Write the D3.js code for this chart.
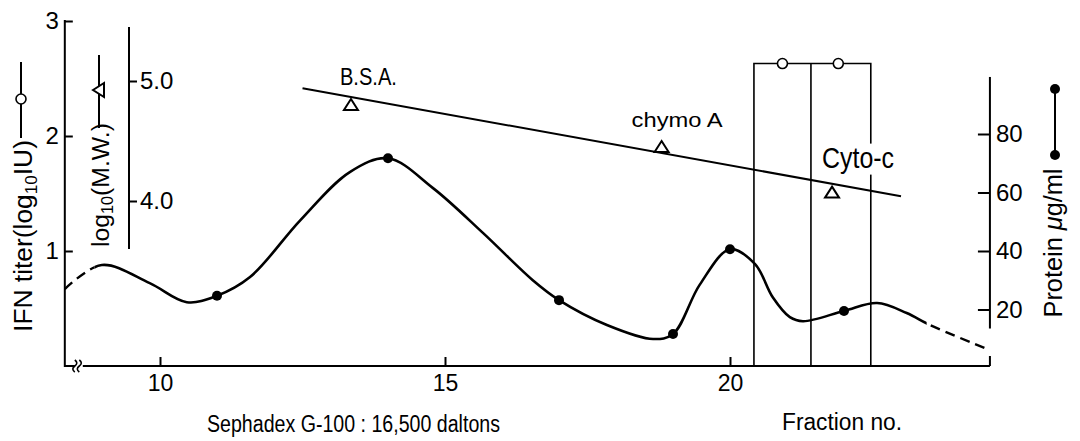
<!DOCTYPE html>
<html><head><meta charset="utf-8">
<script src="https://cdn.jsdelivr.net/npm/d3@7"></script>
<style>
html,body{margin:0;padding:0;background:#fff;}
svg{display:block;font-family:"Liberation Sans",Arial,sans-serif;}
</style></head><body>
<svg id="chart" width="1080" height="441"></svg>
<script>
// ---------------- data ----------------
const fractionTicks = [10, 15, 20];
const ifnTicks = [1, 2, 3];
const mwTicks = [4.0, 5.0];
const proteinTicks = [20, 40, 60, 80];

// protein (filled circles), fraction no. vs µg/ml
const proteinFractions = [11, 14, 17, 19, 20, 22];
const proteinValues = [24.7, 71.7, 23.2, 11.6, 40.6, 19.5];
// traced shape of the protein curve (incl. unmarked points)
const curveFractions = [8.33, 8.98, 9.82, 10.47, 11, 11.58, 12.46, 13.33, 14, 14.79, 15.67, 16.54, 17, 17.84, 18.65, 19, 19.47, 20, 20.44, 20.75, 21.05, 21.28, 22, 22.58, 23.1, 23.51, 24.56];
const curveValues = [27.0, 35.2, 29.0, 22.5, 24.7, 31.1, 50.5, 67.0, 71.7, 61.5, 46.1, 30.0, 23.2, 14.7, 9.9, 11.6, 28.5, 40.6, 35.5, 24.2, 17.4, 16.0, 19.5, 22.2, 18.8, 14.7, 6.1];
const dashedBefore = 8.85;   // curve dashed left of this fraction
const dashedAfter = 23.45;   // and right of this fraction

// IFN titer (open circles, histogram)
const ifnBinEdges = [20.42, 21.42, 22.47];
const ifnFractions = [20.92, 21.9];
const ifnValues = [2.63, 2.63];

// molecular weight markers (triangles) and calibration line
const markerNames = ["B.S.A.", "chymo A", "Cyto-c"];
const markerFractions = [13.35, 18.8, 21.79];
const markerLogMW = [4.80, 4.45, 4.07];
const calibFractions = [12.5, 23.0];
const calibLogMW = [4.94, 4.04];

// ---------------- chart ----------------
const svg = d3.select("#chart");
const FONT = '"Liberation Sans",Arial,sans-serif';

const x = d3.scaleLinear().domain([10, 20]).range([160, 730]);
const yIFN = d3.scaleLinear().domain([0, 3]).range([366, 21]);
const yMW = d3.scaleLinear().domain([4, 5]).range([201, 81]);
const yP = d3.scaleLinear().domain([0, 80]).range([368, 134]);

const xMin = 8.33, xMax = 24.56;
const baseY = yIFN(0);

function styleAxis(g, fs) {
  g.attr("font-family", FONT).attr("font-size", fs);
  g.selectAll("line").attr("stroke", "#000").attr("stroke-width", 2);
  g.selectAll("path.domain").attr("stroke", "#000").attr("stroke-width", 2);
  g.selectAll("text").attr("fill", "#000");
}

// ---- x axis with break ----
const xAxisG = svg.append("g").attr("transform", `translate(0,${baseY})`)
  .call(d3.axisBottom(x).tickValues(fractionTicks).tickSizeInner(-9).tickSizeOuter(0).tickPadding(9));
xAxisG.select("path.domain").remove();
styleAxis(xAxisG, 23);
const x0 = x(xMin);
svg.append("path")
  .attr("d", `M${x0},${baseY}H${x0+10}M${x0+18},${baseY}H${x(xMax)}M${x(xMax)},${baseY}V${baseY-10}`)
  .attr("stroke", "#000").attr("stroke-width", 2).attr("fill", "none");
// break mark (two small S strokes across the axis)
svg.append("path")
  .attr("d", [x0 + 11.5, x0 + 16].map(c => `M${c-1.5},${baseY-6} q4,3 0,6 q-4,3 0,6`).join(""))
  .attr("stroke", "#000").attr("stroke-width", 1.6).attr("fill", "none");

// ---- IFN axis (left) ----
const ifnAxisG = svg.append("g").attr("transform", `translate(${x0},0)`)
  .call(d3.axisLeft(yIFN).tickValues(ifnTicks).tickFormat(d3.format("d")).tickSizeInner(-8).tickSizeOuter(0).tickPadding(6));
styleAxis(ifnAxisG, 24);
ifnAxisG.select("path.domain").attr("d", `M0,${baseY+1}V${yIFN(3)-1}`);

// ---- MW axis ----
const mwX = 129;
const mwAxisG = svg.append("g").attr("transform", `translate(${mwX},0)`)
  .call(d3.axisRight(yMW).tickValues(mwTicks).tickFormat(d3.format(".1f")).tickSizeInner(8).tickSizeOuter(0).tickPadding(3));
mwAxisG.select("path.domain").remove();
styleAxis(mwAxisG, 24);
svg.append("line").attr("x1", mwX).attr("x2", mwX).attr("y1", yMW(5.45)).attr("y2", yMW(3.6))
  .attr("stroke", "#000").attr("stroke-width", 2);

// ---- protein axis (right) ----
const pX = x(xMax);
const pAxisG = svg.append("g").attr("transform", `translate(${pX},0)`)
  .call(d3.axisRight(yP).tickValues(proteinTicks).tickSizeInner(-12).tickSizeOuter(0).tickPadding(6));
pAxisG.select("path.domain").remove();
styleAxis(pAxisG, 24);
svg.append("line").attr("x1", pX).attr("x2", pX).attr("y1", yP(99.5)).attr("y2", yP(13.5))
  .attr("stroke", "#000").attr("stroke-width", 2);

// ---- IFN histogram ----
const e = ifnBinEdges;
svg.append("path")
  .attr("d", `M${x(e[0])},${baseY}V${yIFN(ifnValues[0])}H${x(e[1])}V${yIFN(ifnValues[1])}H${x(e[2])}V${baseY}M${x(e[1])},${yIFN(ifnValues[0])}V${baseY}`)
  .attr("stroke", "#000").attr("stroke-width", 1.6).attr("fill", "none");

// ---- MW calibration line ----
svg.append("path")
  .datum(d3.zip(calibFractions, calibLogMW))
  .attr("d", d3.line().x(d => x(d[0])).y(d => yMW(d[1])))
  .attr("stroke", "#000").attr("stroke-width", 2).attr("fill", "none");

// labels (Cyto-c with white background interrupting the histogram edge)
const labelSpec = [
  {dx: -11, base: -20, fs: 23, len: 57},
  {dx: -30, base: -20, fs: 21, len: 91},
  {dx: -10, base: -25, fs: 29, len: 72, bg: true}
];
markerNames.forEach((n, i) => {
  const s = labelSpec[i];
  const tx = x(markerFractions[i]) + s.dx;
  const ty = yMW(markerLogMW[i]) + s.base;
  if (s.bg) {
    svg.append("rect").attr("x", tx - 2).attr("y", ty - 24).attr("width", s.len + 4).attr("height", 31).attr("fill", "#fff");
  }
  svg.append("text").attr("x", tx).attr("y", ty).attr("font-size", s.fs)
    .attr("textLength", s.len).attr("lengthAdjust", "spacingAndGlyphs").text(n);
});

const triPath = "M0,-6L7,5L-7,5Z";
svg.selectAll("path.tri").data(d3.zip(markerFractions, markerLogMW)).join("path")
  .attr("class", "tri").attr("d", triPath)
  .attr("transform", d => `translate(${x(d[0])},${yMW(d[1])})`)
  .attr("fill", "#fff").attr("stroke", "#000").attr("stroke-width", 2);

// ---- protein curve ----
const lineGen = d3.line().curve(d3.curveCatmullRom.alpha(0.5)).x(d => x(d[0])).y(d => yP(d[1]));
const curveData = d3.zip(curveFractions, curveValues);
const defs = svg.append("defs");
defs.append("clipPath").attr("id", "solidClip").append("rect")
  .attr("x", x(dashedBefore)).attr("y", 0).attr("width", x(dashedAfter) - x(dashedBefore)).attr("height", 441);
const dc = defs.append("clipPath").attr("id", "dashClip");
dc.append("rect").attr("x", 0).attr("y", 0).attr("width", x(dashedBefore)).attr("height", 441);
dc.append("rect").attr("x", x(dashedAfter)).attr("y", 0).attr("width", 1080 - x(dashedAfter)).attr("height", 441);
svg.append("path").datum(curveData).attr("d", lineGen).attr("clip-path", "url(#solidClip)")
  .attr("stroke", "#000").attr("stroke-width", 2.6).attr("fill", "none");
svg.append("path").datum(curveData).attr("d", lineGen).attr("clip-path", "url(#dashClip)")
  .attr("stroke", "#000").attr("stroke-width", 2.4).attr("fill", "none").attr("stroke-dasharray", "10,6");

svg.selectAll("circle.prot").data(d3.zip(proteinFractions, proteinValues)).join("circle")
  .attr("class", "prot").attr("cx", d => x(d[0])).attr("cy", d => yP(d[1])).attr("r", 5).attr("fill", "#000");

svg.selectAll("circle.ifn").data(d3.zip(ifnFractions, ifnValues)).join("circle")
  .attr("class", "ifn").attr("cx", d => x(d[0])).attr("cy", d => yIFN(d[1])).attr("r", 5)
  .attr("fill", "#fff").attr("stroke", "#000").attr("stroke-width", 1.6);

// ---- axis titles ----
svg.append("text").attr("x", 207).attr("y", 432).attr("font-size", 23)
  .attr("textLength", 293).attr("lengthAdjust", "spacingAndGlyphs").text("Sephadex G-100 : 16,500 daltons");
svg.append("text").attr("x", 782).attr("y", 430).attr("font-size", 23)
  .attr("textLength", 120).attr("lengthAdjust", "spacingAndGlyphs").text("Fraction no.");

// rotated titles, sized to the span they occupy in the original
function rotLabel(cx, cy, target, parts) {
  const t = svg.append("text").attr("transform", `translate(${cx},${cy}) rotate(-90)`)
    .attr("text-anchor", "middle");
  function build(fs) {
    t.selectAll("tspan").remove();
    t.attr("font-size", fs);
    parts.forEach(p => {
      const ts = t.append("tspan").text(p.t);
      if (p.sub) ts.attr("font-size", fs * 0.65).attr("dy", fs * 0.18);
      if (p.after) ts.attr("dy", -fs * 0.18);
      if (p.it) ts.attr("font-style", "italic");
    });
  }
  build(24);
  const len = t.node().getComputedTextLength();
  build(24 * target / len);
}
rotLabel(32, 236, 192, [{t: "IFN titer(log"}, {t: "10", sub: true}, {t: "IU)", after: true}]);
rotLabel(109, 185, 124, [{t: "log"}, {t: "10", sub: true}, {t: "(M.W.)", after: true}]);
rotLabel(1062, 243, 149, [{t: "Protein "}, {t: "μ", it: true}, {t: "g/ml"}]);

// ---- legend keys ----
svg.append("line").attr("x1", 21).attr("x2", 21).attr("y1", 62).attr("y2", 138).attr("stroke", "#000").attr("stroke-width", 2);
svg.append("circle").attr("cx", 21).attr("cy", 99).attr("r", 5).attr("fill", "#fff").attr("stroke", "#000").attr("stroke-width", 1.6);
svg.append("line").attr("x1", 99).attr("x2", 99).attr("y1", 55).attr("y2", 128).attr("stroke", "#000").attr("stroke-width", 2);
svg.append("path").attr("d", "M93,90L104,83L104,97Z").attr("fill", "#fff").attr("stroke", "#000").attr("stroke-width", 2);
svg.append("line").attr("x1", 1055).attr("x2", 1055).attr("y1", 89).attr("y2", 155).attr("stroke", "#000").attr("stroke-width", 2);
svg.selectAll("circle.pleg").data([89, 155]).join("circle").attr("class", "pleg")
  .attr("cx", 1055).attr("cy", d => d).attr("r", 5).attr("fill", "#000");
</script>
</body></html>
